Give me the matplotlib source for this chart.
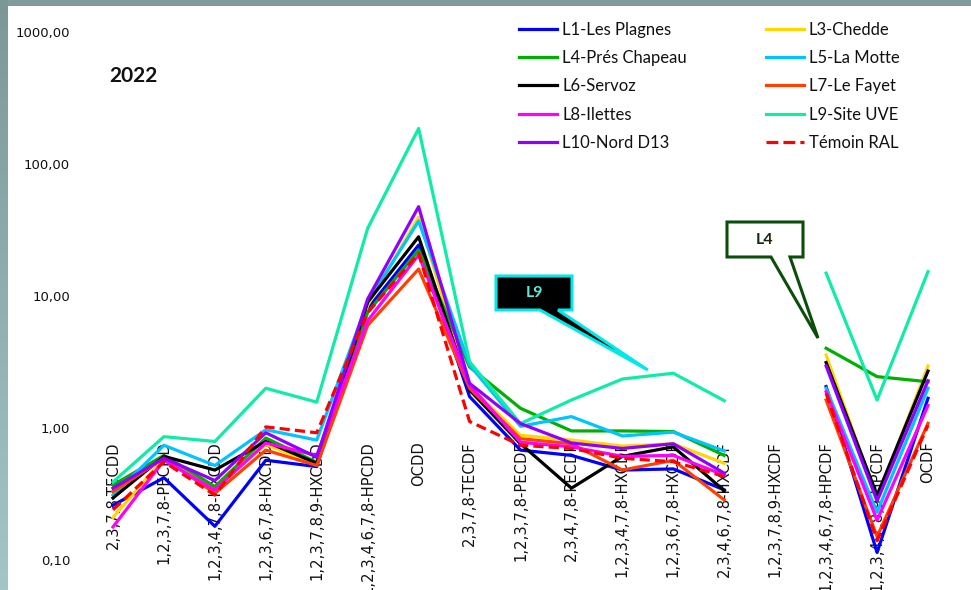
import numpy as np
import matplotlib
matplotlib.use("Agg")
import matplotlib.pyplot as plt
from matplotlib.lines import Line2D
from matplotlib.patches import Polygon, Rectangle
from matplotlib.transforms import IdentityTransform

nan = np.nan

categories = [
    "2,3,7,8-TECDD", "1,2,3,7,8-PECDD", "1,2,3,4,7,8-HXCDD", "1,2,3,6,7,8-HXCDD",
    "1,2,3,7,8,9-HXCDD", "1,2,3,4,6,7,8-HPCDD", "OCDD", "2,3,7,8-TECDF",
    "1,2,3,7,8-PECDF", "2,3,4,7,8-PECDF", "1,2,3,4,7,8-HXCDF", "1,2,3,6,7,8-HXCDF",
    "2,3,4,6,7,8-HXCDF", "1,2,3,7,8,9-HXCDF", "1,2,3,4,6,7,8-HPCDF",
    "1,2,3,4,7,8,9-HPCDF", "OCDF",
]

l1_les_plagnes = [0.26, 0.42, 0.18, 0.57, 0.51, 8.0, 24.3, 1.73, 0.68, 0.62, 0.48, 0.49, 0.34, nan, 2.06, 0.114, 1.68]
l3_chedde = [0.21, 0.59, 0.35, 0.75, 0.53, 8.5, 39.5, 2.06, 0.88, 0.81, 0.73, 0.76, 0.54, nan, 3.57, 0.29, 2.95]
l4_pres_chapeau = [0.37, 0.62, 0.36, 0.84, 0.55, 7.5, 22.3, 2.9, 1.41, 0.95, 0.95, 0.94, 0.62, nan, 4.02, 2.45, 2.24]
l5_la_motte = [0.31, 0.74, 0.52, 0.97, 0.81, 9.0, 37.0, 3.0, 1.03, 1.22, 0.87, 0.93, 0.67, nan, 2.0, 0.23, 2.0]
l6_servoz = [0.295, 0.61, 0.48, 0.79, 0.54, 9.0, 28.1, 1.94, 0.76, 0.35, 0.61, 0.72, 0.335, nan, 3.13, 0.31, 2.7]
l7_le_fayet = [0.33, 0.59, 0.32, 0.68, 0.52, 6.0, 16.0, 2.0, 0.83, 0.76, 0.48, 0.57, 0.285, nan, 1.63, 0.15, 1.085]
l8_ilettes = [0.178, 0.57, 0.34, 0.77, 0.62, 6.5, 20.5, 2.12, 0.78, 0.72, 0.61, 0.62, 0.44, nan, 1.88, 0.20, 1.48]
l9_site_uve = [0.39, 0.86, 0.79, 2.0, 1.57, 32.6, 186.0, 3.18, 1.08, 1.63, 2.35, 2.6, 1.61, nan, 14.9, 1.63, 15.3]
l10_nord_d13 = [0.35, 0.59, 0.40, 0.92, 0.60, 9.5, 47.5, 2.18, 1.08, 0.77, 0.70, 0.76, 0.455, nan, 2.95, 0.28, 2.28]
temoin_ral = [0.24, 0.555, 0.31, 1.02, 0.92, 7.5, 21.0, 1.12, 0.74, 0.70, 0.59, 0.555, 0.43, nan, 1.83, 0.14, 1.05]

y_ticks = [0.1, 1, 10, 100, 1000]
y_tick_labels = ["0,10", "1,00", "10,00", "100,00", "1000,00"]

series = [
    ("L1-Les Plagnes", l1_les_plagnes, "#0000ff", "-"),
    ("L3-Chedde", l3_chedde, "#ffd700", "-"),
    ("L4-Prés Chapeau", l4_pres_chapeau, "#00b000", "-"),
    ("L5-La Motte", l5_la_motte, "#00c4ff", "-"),
    ("L6-Servoz", l6_servoz, "#000000", "-"),
    ("L7-Le Fayet", l7_le_fayet, "#ff4000", "-"),
    ("L8-Ilettes", l8_ilettes, "#ff00ff", "-"),
    ("L9-Site UVE", l9_site_uve, "#10eca8", "-"),
    ("L10-Nord D13", l10_nord_d13, "#8f00ff", "-"),
    ("Témoin RAL", temoin_ral, "#ff0000", "--"),
]

W, H = 971, 590
fig = plt.figure(figsize=(W / 100, H / 100), dpi=100)
fig.patch.set_facecolor("white")
ax = fig.add_axes([0, 0, 1, 1])
ax.set_yscale("log")

# category spacing in pixels and placement of the first category
step = 50.94
x0 = 113
ax.set_xlim(-x0 / step, 16 + (W - 928) / step)
ax.set_ylim(10 ** (-1 - 30 / 132), 10 ** (3 + 32 / 132))
for s in ax.spines.values():
    s.set_visible(False)

x = np.arange(len(categories))
handles = {}
for name, vals, col, ls in series:
    if ls == "--":
        (ln,) = ax.plot(x, vals, color=col, lw=2.3, ls=(0, (3.2, 1.6)))
    else:
        (ln,) = ax.plot(x, vals, color=col, lw=2.3)
    handles[name] = ln

ax.set_yticks(y_ticks, y_tick_labels)
ax.yaxis.set_minor_locator(matplotlib.ticker.NullLocator())
ax.tick_params(axis="y", length=0, pad=-50.5, labelsize=9.5, labelcolor="#111111")

ax.set_xticks(x, categories, rotation=90)
ax.tick_params(axis="x", length=0, pad=-107, labelsize=10.6, labelcolor="#111111")

fig.text(133 / W, 1 - 76 / H, "2022", family="Lato", fontweight="bold",
         fontsize=15, ha="center", va="center", color="#111111")

order = ["L1-Les Plagnes", "L4-Prés Chapeau", "L6-Servoz", "L8-Ilettes", "L10-Nord D13",
         "L3-Chedde", "L5-La Motte", "L7-Le Fayet", "L9-Site UVE", "Témoin RAL"]
leg_handles = []
for n in order:
    h = handles[n]
    leg_handles.append(Line2D([], [], color=h.get_color(), lw=2.3, ls=h.get_linestyle()))
leg = ax.legend(leg_handles, order, ncol=2, loc="upper left",
                bbox_to_anchor=(519 / W, 1 - 22 / H), frameon=False,
                borderpad=0, borderaxespad=0, handlelength=2.28, handletextpad=0.3,
                columnspacing=4.75, labelspacing=0.73,
                prop={"family": "Lato", "size": 12})
for t in leg.get_texts():
    t.set_color("#111111")


def px(xp, yp):
    return (xp, H - yp)


def callout(label, tip_x, tip_v, box, base, fc, ec, tc):
    fig.canvas.draw()
    tx, ty = ax.transData.transform((tip_x, tip_v))
    l, t, r, b = box
    b0, b1 = base
    pts = [px(l, t), px(r, t), px(r, b), px(b1, b), (tx, ty), px(b0, b), px(l, b)]
    poly = Polygon(pts, closed=True, transform=IdentityTransform(), fc=fc, ec=ec,
                   lw=2.2, joinstyle="miter", zorder=5)
    fig.add_artist(poly)
    cx, cy = px((l + r) / 2, (t + b) / 2)
    fig.text(cx / W, cy / H, label, ha="center", va="center", family="Lato",
             fontweight="bold", fontsize=11.5, color=tc, zorder=6)


callout("L9", 10.50, 2.75, (496, 276, 572, 310), (540, 558), "black", "#00e8e8", "#5ee8d8")
callout("L4", 13.84, 4.8, (727, 222, 803, 257), (771, 790), "white", "#0b4d0b", "#1a2a10")

# window frame along the top and left edges
fig.add_artist(Rectangle((0, H - 6), W, 6, transform=IdentityTransform(),
                         fc="#7f9b9c", ec="none", zorder=10))
band = fig.add_axes([0, 0, 8 / W, 1], zorder=10)
grad = np.linspace(0, 1, 256)[:, None]
band.imshow(grad, aspect="auto", cmap=matplotlib.colors.LinearSegmentedColormap.from_list(
    "frame", ["#7d9798", "#a2c6c8"]), extent=(0, 1, 0, 1))
band.axis("off")

fig.savefig("out.png", dpi=100)
